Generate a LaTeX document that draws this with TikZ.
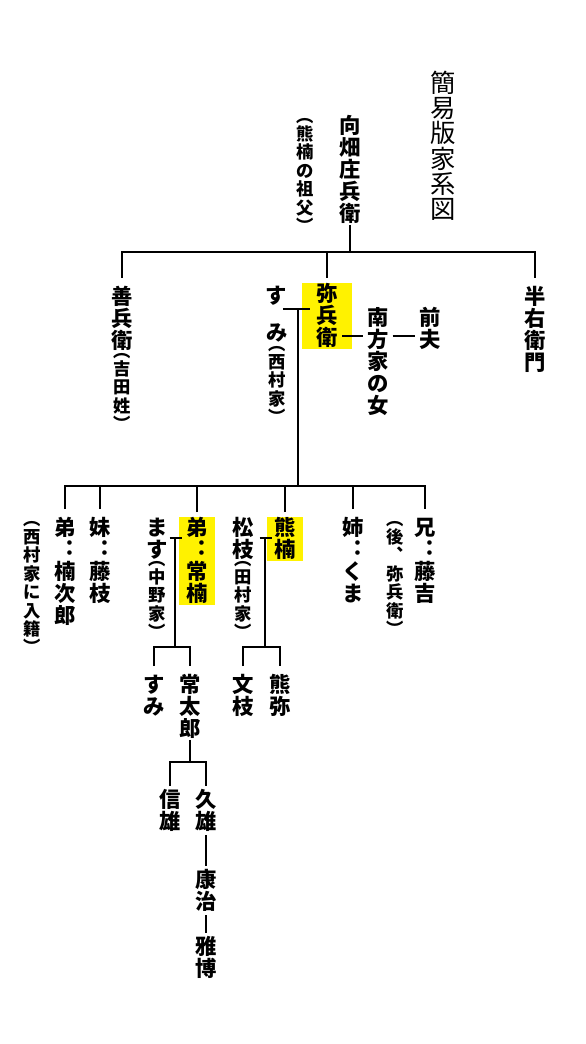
\documentclass[tikz,border=0pt]{standalone}
\usepackage{fontspec}
\newfontfamily\jp{Noto Sans CJK JP}
\definecolor{hlyellow}{RGB}{255,242,0}
\newcommand\tatestep{1.03}
\newcommand\tate[1]{\vbox{\offinterlineskip\tateloop#1\relax}}
\newcommand\tateloop[1]{\ifx\relax#1\else\hbox to 1em{\vrule height .88em depth \dimexpr\tatestep em-.88em\relax width 0pt\hss#1\hss}\expandafter\tateloop\fi}
\tikzset{
  mei/.style={font=\jp\bfseries\fontsize{16}{16}\selectfont, inner sep=0pt, outer xsep=0pt, outer ysep=6pt, anchor=north},
  chu/.style={font=\jp\bfseries\fontsize{13}{13}\selectfont\def\tatestep{1.06}, inner sep=0pt, anchor=north},
  hl/.style={mei, fill=hlyellow, inner xsep=5.5pt, outer ysep=3.5pt},
  kei/.style={mei, outer ysep=2pt},
  midashi/.style={font=\jp\fontsize{19}{19}\selectfont\def\tatestep{1.0}, inner sep=0pt, anchor=north}
}
\begin{document}
\begin{tikzpicture}[x=0.75pt,y=-0.75pt,line width=1.4pt]
    \useasboundingbox (0,0) rectangle (585,1044);

    \node[midashi] (title) at (443,69) {\tate{簡易版家系図}};
    \node[mei] (kohata) at (350,107) {\tate{向畑庄兵衛}};
    \node[chu] (kohata-chu) at (305,106) {\tate{︵熊楠の祖父︶}};

    \node[mei] (zenbei) at (122,278) {\tate{善兵衛}};
    \node[chu] (zenbei-chu) at (122,341) {\tate{︵吉田姓︶}};
    \node[hl, inner xsep=11pt] (yahei) at (327,278) {\tate{弥兵衛}};
    \node[mei] (sumi-su) at (276,277) {\tate{す}};
    \node[mei] (sumi-mi) at (277,314) {\tate{み}};
    \node[chu] (sumi-chu) at (277,334) {\tate{︵西村家︶}};
    \node[mei] (minakata) at (378,299) {\tate{南方家の女}};
    \node[mei] (zenpu) at (430,299) {\tate{前夫}};
    \node[mei] (hanuemon) at (535,278) {\tate{半右衛門}};

    \node[mei] (kusujiro) at (65,509) {\tate{弟︓楠次郎}};
    \node[chu] (kusujiro-chu) at (32,509) {\tate{︵西村家に入籍︶}};
    \node[mei] (fujie) at (100,509) {\tate{妹︓藤枝}};
    \node[mei] (masu) at (157,509) {\tate{ます}};
    \node[chu] (masu-chu) at (157,549) {\tate{︵中野家︶}};
    \node[hl] (tsunekusu) at (197,512) {\tate{弟︓常楠}};
    \node[mei] (matsue) at (243,509) {\tate{松枝}};
    \node[chu] (matsue-chu) at (243,549) {\tate{︵田村家︶}};
    \node[hl] (kumagusu) at (285,512) {\tate{熊楠}};
    \node[mei] (kuma) at (353,509) {\tate{姉︓くま}};
    \node[chu] (tokichi-chu) at (395,509) {\tate{︵後︑弥兵衛︶}};
    \node[mei] (tokichi) at (425,509) {\tate{兄︓藤吉}};

    \node[mei] (sumi) at (154,666) {\tate{すみ}};
    \node[mei] (jotaro) at (190,666) {\tate{常太郎}};
    \node[mei] (fumie) at (243,666) {\tate{文枝}};
    \node[mei] (kumaya) at (280,666) {\tate{熊弥}};
    \node[kei] (nobuo) at (170,786) {\tate{信雄}};
    \node[kei] (hisao) at (206,786) {\tate{久雄}};
    \node[kei] (koji) at (206,866) {\tate{康治}};
    \node[kei] (masahiro) at (206,933) {\tate{雅博}};

    \coordinate (bar1) at (350,252);
    \draw[shorten <=-6pt] (kohata.south) -- (bar1);
    \draw (zenbei.north) |- (bar1) -| (hanuemon.north);
    \draw (yahei.north) -- (yahei.north |- bar1);

    \coordinate (m1) at (298,309);
    \coordinate (m2) at (378,336);
    \coordinate (bar2) at (298,486);
    \draw[shorten <=-2.8pt, shorten >=-6.3pt] (sumi-su.east |- m1) -- (yahei.west |- m1);
    \draw[shorten <=-7.5pt, shorten >=3pt] (yahei.east |- m2) -- (minakata.west |- m2);
    \draw[shorten <=3pt, shorten >=3pt] (minakata.east |- m2) -- (zenpu.west |- m2);
    \draw (m1) -- (bar2);
    \draw (kusujiro.north) |- (bar2) -| (tokichi.north);
    \foreach \n in {fujie,tsunekusu,kumagusu,kuma} {\draw (\n.north) -- (\n.north |- bar2);}

    \coordinate (m3) at (175,538);
    \coordinate (bar3) at (175,647);
    \draw[shorten <=1.5pt, shorten >=-2pt] (masu.east |- m3) -- (tsunekusu.west |- m3);
    \draw (m3) -- (bar3);
    \draw (sumi.north) |- (bar3) -| (jotaro.north);

    \coordinate (m4) at (265,538);
    \coordinate (bar4) at (265,647);
    \draw[shorten <=4.5pt, shorten >=-4pt] (matsue.east |- m4) -- (kumagusu.west |- m4);
    \draw (m4) -- (bar4);
    \draw (fumie.north) |- (bar4) -| (kumaya.north);

    \coordinate (bar5) at (190,762);
    \draw[shorten <=-6pt] (jotaro.south) -- (bar5);
    \draw (nobuo.north) |- (bar5) -| (hisao.north);
    \draw (hisao) -- (koji);
    \draw (koji) -- (masahiro);
\end{tikzpicture}
\end{document}
